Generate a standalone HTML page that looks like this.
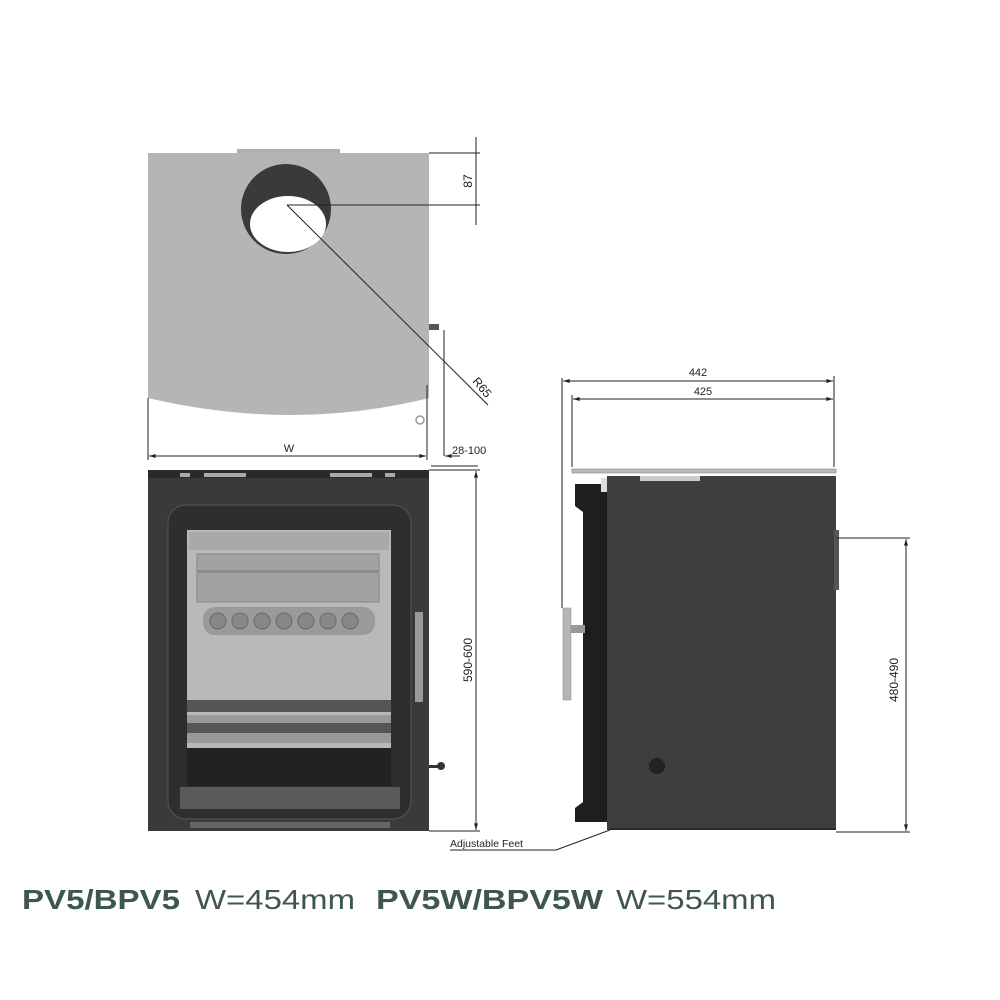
<!DOCTYPE html>
<html><head><style>
body{margin:0;background:#fff;}
svg{display:block}
text{font-family:"Liberation Sans",sans-serif;fill:#222}
</style></head><body>
<svg width="1000" height="1000" viewBox="0 0 1000 1000">
<defs>
<marker id="a" viewBox="0 0 10 6" refX="10" refY="3" markerWidth="7" markerHeight="4" orient="auto-start-reverse"><path d="M0,0 L10,3 L0,6z" fill="#222"/></marker>
</defs>
<!-- TOP VIEW -->
<rect x="237" y="149" width="103" height="6" fill="#b0b0b0"/>
<path d="M148,153 H429 V398 Q360,415 292,415 Q220,415 148,398 Z" fill="#b5b5b5"/>
<circle cx="286" cy="209" r="45" fill="#3a3a3a"/>
<ellipse cx="288" cy="224" rx="38" ry="28" fill="#fff"/>
<path d="M429,330 h10 v-6 h-10z" fill="#555"/>
<circle cx="420" cy="420" r="4" fill="none" stroke="#999" stroke-width="1.5"/>
<g stroke="#222" stroke-width="1" fill="none">
<line x1="429" y1="153" x2="480" y2="153"/>
<line x1="287" y1="205" x2="480" y2="205"/>
<line x1="476" y1="137" x2="476" y2="225"/>
<line x1="287" y1="205" x2="488" y2="405"/>
<line x1="444" y1="330" x2="444" y2="456"/>
<line x1="148" y1="398" x2="148" y2="460"/>
<line x1="427" y1="385" x2="427" y2="460"/>
<line x1="149" y1="456" x2="426" y2="456" marker-start="url(#a)" marker-end="url(#a)"/>
<line x1="460" y1="456" x2="445" y2="456" marker-end="url(#a)"/>
<line x1="431" y1="466" x2="478" y2="466"/>
</g>
<text x="472" y="181" font-size="12" transform="rotate(-90 472 181)" text-anchor="middle">87</text>
<text x="479" y="390" font-size="12" transform="rotate(50 479 390)" text-anchor="middle">R65</text>
<text x="289" y="452" font-size="11" text-anchor="middle">W</text>
<text x="452" y="454" font-size="11">28-100</text>
<!-- FRONT VIEW -->
<rect x="148" y="470" width="281" height="361" fill="#3a3a3a"/>
<rect x="148" y="470" width="281" height="8" fill="#2a2a2a"/>
<rect x="204" y="473" width="42" height="4" fill="#aaa"/><rect x="330" y="473" width="42" height="4" fill="#aaa"/>
<rect x="180" y="473" width="10" height="4" fill="#aaa"/><rect x="385" y="473" width="10" height="4" fill="#aaa"/>
<rect x="168" y="505" width="243" height="314" rx="18" fill="#2e2e2e" stroke="#555" stroke-width="1"/>
<rect x="187" y="530" width="204" height="218" fill="#b9b9b9"/>
<rect x="189" y="532" width="200" height="18" fill="#a9a9a9"/>
<rect x="197" y="554" width="182" height="48" fill="#a2a2a2" stroke="#888"/>
<rect x="197" y="570" width="182" height="3" fill="#8c8c8c"/>
<rect x="203" y="607" width="172" height="28" rx="12" fill="#9a9a9a"/>
<g fill="#888" stroke="#6a6a6a"><circle cx="218" cy="621" r="8"/><circle cx="240" cy="621" r="8"/><circle cx="262" cy="621" r="8"/><circle cx="284" cy="621" r="8"/><circle cx="306" cy="621" r="8"/><circle cx="328" cy="621" r="8"/><circle cx="350" cy="621" r="8"/></g>
<rect x="187" y="700" width="204" height="12" fill="#555"/>
<rect x="187" y="715" width="204" height="8" fill="#999"/>
<rect x="187" y="723" width="204" height="10" fill="#555"/>
<rect x="187" y="733" width="204" height="10" fill="#999"/>
<rect x="187" y="748" width="204" height="38" fill="#222"/>
<rect x="180" y="787" width="220" height="22" fill="#5a5a5a"/>
<rect x="415" y="612" width="8" height="90" fill="#9a9a9a"/>
<rect x="429" y="765" width="10" height="3" fill="#333"/><circle cx="441" cy="766" r="4" fill="#333"/>
<rect x="190" y="822" width="200" height="6" fill="#666"/>
<g stroke="#222" stroke-width="1">
<line x1="429" y1="470" x2="480" y2="470"/>
<line x1="429" y1="831" x2="480" y2="831"/>
<line x1="476" y1="471" x2="476" y2="830" marker-start="url(#a)" marker-end="url(#a)"/>
</g>
<text x="472" y="660" font-size="12" transform="rotate(-90 472 660)" text-anchor="middle">590-600</text>
<!-- SIDE VIEW -->
<g stroke="#222" stroke-width="1">
<line x1="562" y1="378" x2="562" y2="608"/>
<line x1="572" y1="395" x2="572" y2="467"/>
<line x1="834" y1="376" x2="834" y2="467"/>
<line x1="563" y1="381" x2="833" y2="381" marker-start="url(#a)" marker-end="url(#a)"/>
<line x1="573" y1="399" x2="833" y2="399" marker-start="url(#a)" marker-end="url(#a)"/>
</g>
<text x="698" y="376" font-size="11" text-anchor="middle">442</text>
<text x="703" y="395" font-size="11" text-anchor="middle">425</text>
<rect x="572" y="469" width="264" height="4" fill="#bbb" stroke="#777" stroke-width="0.5"/>
<rect x="607" y="476" width="229" height="354" fill="#403e3d"/>
<rect x="640" y="476" width="60" height="5" fill="#ccc"/>
<rect x="834" y="530" width="5" height="60" fill="#555"/>
<path d="M575,484 H607 V822 H575 V808 L583,802 V512 L575,506Z" fill="#1e1e1e"/>
<rect x="601" y="478" width="6" height="14" fill="#ddd"/>
<rect x="563" y="608" width="8" height="92" fill="#b5b5b5" stroke="#888" stroke-width="0.5"/>
<rect x="571" y="625" width="14" height="8" fill="#999"/>
<circle cx="657" cy="766" r="8" fill="#222"/>
<path d="M610,828 H836 V830 H610Z" fill="#2a2a2a"/>
<g stroke="#222" stroke-width="1">
<line x1="836" y1="538" x2="910" y2="538"/>
<line x1="836" y1="832" x2="910" y2="832"/>
<line x1="906" y1="539" x2="906" y2="831" marker-start="url(#a)" marker-end="url(#a)"/>
<line x1="450" y1="850" x2="556" y2="850"/>
<line x1="556" y1="850" x2="610" y2="830"/>
</g>
<text x="898" y="680" font-size="12" transform="rotate(-90 898 680)" text-anchor="middle">480-490</text>
<text x="450" y="847" font-size="10.5">Adjustable Feet</text>
<!-- caption -->
<g style="fill:#3e5650" font-size="28">
<text x="22" y="909" font-weight="bold" textLength="158" lengthAdjust="spacingAndGlyphs" style="fill:#3e5650">PV5/BPV5</text>
<text x="195" y="909" textLength="160" lengthAdjust="spacingAndGlyphs" style="fill:#3e5650">W=454mm</text>
<text x="376" y="909" font-weight="bold" textLength="227" lengthAdjust="spacingAndGlyphs" style="fill:#3e5650">PV5W/BPV5W</text>
<text x="616" y="909" textLength="160" lengthAdjust="spacingAndGlyphs" style="fill:#3e5650">W=554mm</text>
</g>
</svg>
</body></html>
